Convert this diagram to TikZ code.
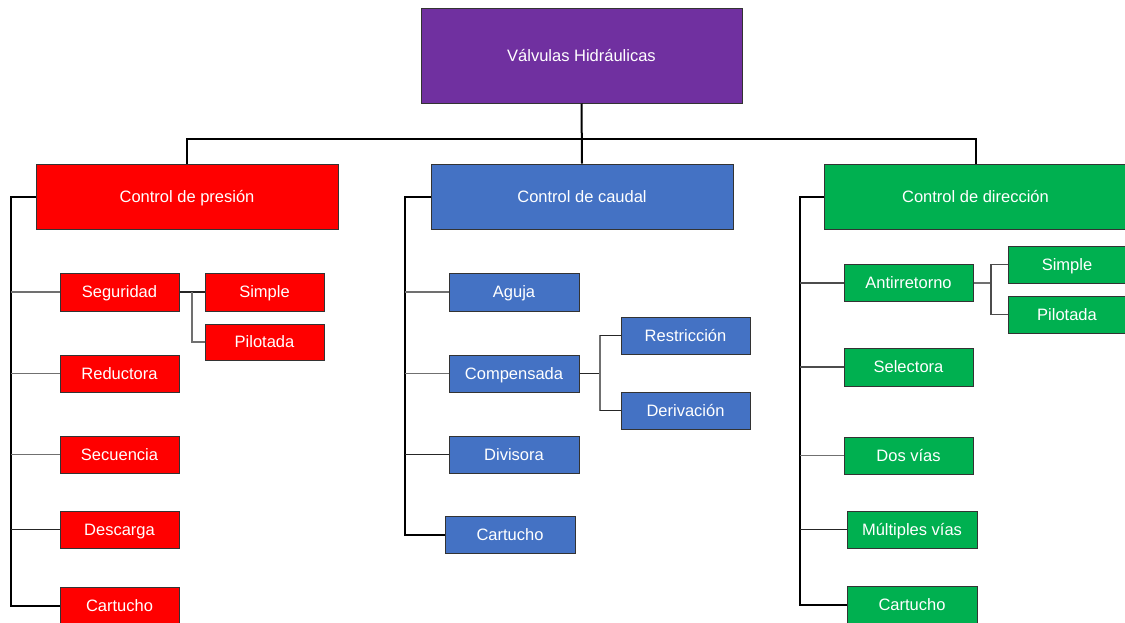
\documentclass[tikz,border=0pt]{standalone}
\usepackage{fontspec}
\setmainfont{Liberation Sans}
\definecolor{cpurple}{HTML}{7030A0}
\definecolor{cred}{HTML}{FF0000}
\definecolor{cblue}{HTML}{4472C4}
\definecolor{cgreen}{HTML}{00B050}
\definecolor{lgray}{HTML}{707070}
\begin{document}
\begin{tikzpicture}[x=1pt,y=-1pt,
  box/.style={draw=black!80, line width=1pt, inner sep=0pt, text=white,
    font=\fontsize{16.5}{18}\selectfont, anchor=center, text height=11.9pt, text depth=0pt},
  rbox/.style={box, fill=cred},
  bbox/.style={box, fill=cblue},
  gbox/.style={box, fill=cgreen},
  trunk/.style={draw=black, line width=2pt},
  conn/.style={draw=black!85, line width=1.6pt},
  conng/.style={draw=lgray, line width=1.8pt}]
\useasboundingbox (0,0) rectangle (1125,622);
% top
\node[box, fill=cpurple, minimum width=321pt, minimum height=95pt] (top) at (581.5,55.5) {Válvulas Hidráulicas};
\node[rbox, minimum width=302pt, minimum height=65pt] (pres) at (187,196.5) {Control de presión};
\node[bbox, minimum width=302pt, minimum height=65pt] (caud) at (582,196.5) {Control de caudal};
\node[gbox, minimum width=302pt, minimum height=65pt] (dir) at (975.5,196.5) {Control de dirección};
\coordinate (bus) at (582,139);
\draw[trunk] (top.south) -- (caud.north);
\draw[trunk] (pres.north) |- (bus) -| (dir.north);
% red
\node[rbox, minimum width=119pt, minimum height=38pt] (seg) at (119.5,292) {Seguridad};
\node[rbox, minimum width=119pt, minimum height=38pt] (rs) at (264.5,292) {Simple};
\node[rbox, minimum width=119pt, minimum height=36pt] (rp) at (264.5,342) {Pilotada};
\node[rbox, minimum width=119pt, minimum height=37pt] (red) at (119.5,373.5) {Reductora};
\node[rbox, minimum width=119pt, minimum height=37pt] (sec) at (119.5,454.5) {Secuencia};
\node[rbox, minimum width=119pt, minimum height=37pt] (des) at (119.5,529.5) {Descarga};
\node[rbox, minimum width=119pt, minimum height=37pt] (rc) at (119.5,605.5) {Cartucho};
\coordinate (t1) at (11,196.5);
\draw[trunk] (pres.west) -- (t1) |- (rc.west);
\draw[conng] (seg.west) -- (seg.west -| t1);
\draw[conng] (red.west) -- (red.west -| t1);
\draw[conng] (sec.west) -- (sec.west -| t1);
\draw[conn] (des.west) -- (des.west -| t1);
\coordinate (s1) at (192,292);
\draw[conn] (seg.east) -- (rs.west);
\draw[conng] (s1) |- (rp.west);
% blue
\node[bbox, minimum width=130pt, minimum height=38pt] (agu) at (514,292) {Aguja};
\node[bbox, minimum width=130pt, minimum height=37pt] (com) at (514,373.5) {Compensada};
\node[bbox, minimum width=129pt, minimum height=37pt] (res) at (685.5,335.5) {Restricción};
\node[bbox, minimum width=129pt, minimum height=37pt] (der) at (685.5,410.5) {Derivación};
\node[bbox, minimum width=130pt, minimum height=37pt] (div) at (514,454.5) {Divisora};
\node[bbox, minimum width=130pt, minimum height=37pt] (bc) at (510,534.5) {Cartucho};
\coordinate (t2) at (405,196.5);
\draw[trunk] (caud.west) -- (t2) |- (bc.west);
\draw[conng] (agu.west) -- (agu.west -| t2);
\draw[conng] (com.west) -- (com.west -| t2);
\draw[conn] (div.west) -- (div.west -| t2);
\coordinate (s2) at (600,373.5);
\draw[conn] (com.east) -- (s2);
\draw[conng] (s2) |- (res.west);
\draw[conng] (s2) |- (der.west);
\draw[conn] (s2 |- res.west) -- (res.west);
\draw[conn] (s2 |- der.west) -- (der.west);
% green
\node[gbox, minimum width=129pt, minimum height=37pt] (ant) at (908.5,283) {Antirretorno};
\node[gbox, minimum width=118pt, minimum height=37pt] (gs) at (1067,264.5) {Simple};
\node[gbox, minimum width=118pt, minimum height=37pt] (gp) at (1067,314.5) {Pilotada};
\node[gbox, minimum width=129pt, minimum height=38pt] (sel) at (908.5,367) {Selectora};
\node[gbox, minimum width=129pt, minimum height=37pt] (dos) at (908.5,455.5) {Dos vías};
\node[gbox, minimum width=130pt, minimum height=37pt] (mul) at (912,529.5) {Múltiples vías};
\node[gbox, minimum width=130pt, minimum height=37pt] (gc) at (912,604.5) {Cartucho};
\coordinate (t3) at (800,196.5);
\draw[trunk] (dir.west) -- (t3) |- (gc.west);
\draw[conn, draw=black!70] (ant.west) -- (ant.west -| t3);
\draw[conn, draw=black!70] (sel.west) -- (sel.west -| t3);
\draw[conng] (dos.west) -- (dos.west -| t3);
\draw[conn] (mul.west) -- (mul.west -| t3);
\coordinate (s3) at (991,283);
\draw[conng] (ant.east) -- (s3);
\draw[conn, draw=black!70] (s3) |- (gs.west);
\draw[conn, draw=black!70] (s3) |- (gp.west);
\end{tikzpicture}
\end{document}
